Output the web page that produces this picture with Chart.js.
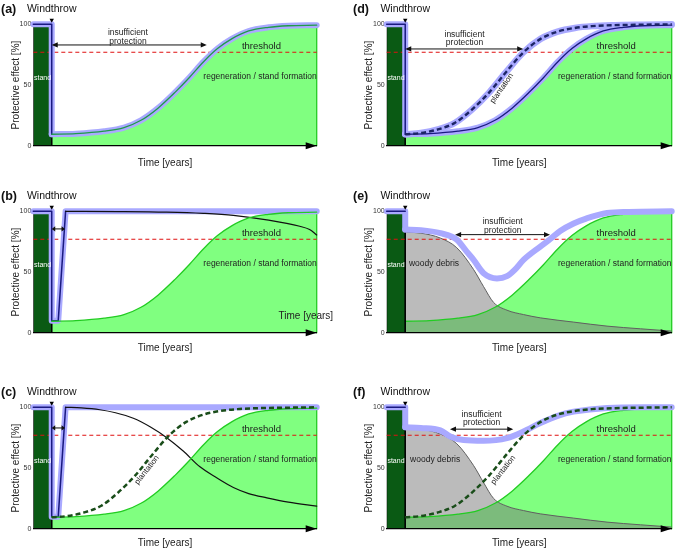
<!DOCTYPE html>
<html><head><meta charset="utf-8">
<script src="https://cdn.jsdelivr.net/npm/chart.js@4/dist/chart.umd.min.js"></script>
<style>
html,body{margin:0;padding:0;background:#fff;overflow:hidden;width:685px;height:551px;position:relative;}
canvas{position:absolute;}
</style></head><body>
<canvas id="pa"></canvas><canvas id="pb"></canvas><canvas id="pc"></canvas>
<canvas id="pd"></canvas><canvas id="pe"></canvas><canvas id="pf"></canvas>
<script>
// ---------- data ----------
const yTicks = [0, 50, 100];
const yTitle = 'Protective effect [%]';
const xTitle = 'Time [years]';
const thresholdLevel = 77;
const windthrowYear = 6.5;
const startYear = 0;
const endYear = 100;

const standYears = [0, 0, 6.5, 6.5];
const standEffect = [0, 100, 100, 0];

const regenYears = [6.5, 15, 25, 32, 38, 44, 50, 55, 60, 65, 70, 76, 83, 90, 100];
const regenEffect = [9.5, 10, 12, 15, 21, 31, 44, 56, 69, 80, 88, 94.5, 97.5, 98.8, 99.3];

const plantYears = [6.5, 12, 18, 24, 30, 36, 42, 48, 54, 60, 66, 72, 80, 90, 100];
const plantEffect = [9.5, 10.5, 13.5, 19, 30, 44, 61, 77, 88, 94, 97, 98.5, 99.3, 99.7, 100];

const collapseYears = [0, 6.5, 6.5];
const collapseEffectA = [100, 100, 9.5];
const collapseEffectE = [100, 100, 85];
const collapseEffectF = [100, 100, 83.6];

const clearYears = [0, 6.5, 6.5, 8.8, 11.4];
const clearEffect = [100, 100, 10, 10, 100];
const fullYears = [11.4, 100];
const fullEffect = [100, 100];

const residualYearsB = [11.4, 30, 47, 60, 70.6, 82.4, 94, 97.5, 100];
const residualEffectB = [100, 99.8, 99.3, 98.3, 96.7, 93, 87.7, 85, 80.5];

const residualYearsC = [11.4, 17, 23.5, 29, 35.3, 41.2, 47.1, 52.9, 58.8, 64.7, 70.6, 76, 82.4, 90, 100];
const residualEffectC = [100, 99.5, 98, 95.5, 91, 84, 75, 64, 51, 42, 34, 29, 25.5, 22, 18.6];

const debrisYears = [6.5, 12, 18.8, 24.6, 30.5, 34, 37.5, 42.2, 48, 53.9, 65.6, 77.3, 89, 100];
const debrisEffect = [83, 82, 78, 70, 52, 38, 25, 18.6, 15, 12.3, 8.8, 5.5, 3.3, 1.4];

const totalYearsE = [6.5, 12, 18.8, 24.6, 28, 30.5, 34, 38.7, 42.2, 45, 48, 53.9, 57.3, 61, 65.6, 70, 77.3, 85, 100];
const totalEffectE = [85, 84.5, 82, 76.7, 67, 60, 49, 44.7, 46.6, 52, 60, 71, 77, 84, 90, 94, 98.6, 99.5, 100];

const totalYearsF = [6.5, 12, 18.8, 22.3, 27, 34, 42.2, 48, 53.9, 60, 65.6, 77.3, 90, 100];
const totalEffectF = [83.6, 83, 81, 76, 73, 72.4, 74.6, 80, 87, 93, 96.4, 99.5, 100, 100];

// ---------- styles ----------
const FONT = "'Liberation Sans', Arial, sans-serif";
const C = {
  stand: '#0a5a14', greenFill: '#80ff80', greenLine: '#22cc22', lav: '#a9a9ff',
  navy: '#1a1a80', red: '#e01010', gray: 'rgba(120,120,120,0.5)', grayLine: '#606060',
  dashGreen: '#1a4d1a', dashNavy: '#1c2466', text: '#222'
};
const pts = (xs, ys) => xs.map((x, i) => ({x: x, y: ys[i]}));
const threshYears = [startYear, endYear];
const threshEffect = [thresholdLevel, thresholdLevel];
const edgeYears = [endYear, endYear];
const edgeEffect = [0, regenEffect[regenEffect.length - 1]];

function line(xs, ys, color, width, extra) {
  return Object.assign({data: pts(xs, ys), borderColor: color, borderWidth: width, fill: false,
    pointRadius: 0, clip: false, borderCapStyle: 'round', borderJoinStyle: 'round'}, extra || {});
}
const mono = {cubicInterpolationMode: 'monotone'};
function curve(xs, ys, color, width, extra) { return line(xs, ys, color, width, Object.assign({}, mono, extra || {})); }
function areaDS(xs, ys, fillColor, borderColor, bw) {
  return {data: pts(xs, ys), backgroundColor: fillColor, borderColor: borderColor || 'rgba(0,0,0,0)',
    borderWidth: bw || 0, fill: 'origin', pointRadius: 0, cubicInterpolationMode: 'monotone', clip: false};
}
const standDS = () => ({data: pts(standYears, standEffect), backgroundColor: C.stand, borderColor: '#000',
  borderWidth: 1, fill: 'origin', pointRadius: 0});
const regenFill = () => areaDS(regenYears, regenEffect, C.greenFill);
const regenEdge = () => line(edgeYears, edgeEffect, C.greenLine, 1.3);
const threshDS = () => line(threshYears, threshEffect, C.red, 1.2, {borderDash: [4, 3], borderCapStyle: 'butt'});

// ---------- annotation plugin ----------
const annoPlugin = {
  id: 'anno',
  afterDatasetsDraw(chart, args, o) {
    const ctx = chart.ctx, xs = chart.scales.x, ys = chart.scales.y, ca = chart.chartArea;
    const X = v => xs.getPixelForValue(v), Y = v => ys.getPixelForValue(v);
    ctx.save();
    ctx.fillStyle = '#000';
    // axis arrowhead
    ctx.beginPath(); ctx.moveTo(ca.right, ca.bottom); ctx.lineTo(ca.right - 11, ca.bottom - 3.5);
    ctx.lineTo(ca.right - 11, ca.bottom + 3.5); ctx.closePath(); ctx.fill();
    // windthrow marker
    const wx = X(windthrowYear);
    ctx.beginPath(); ctx.moveTo(wx - 2.2, ca.top - 5.5); ctx.lineTo(wx + 2.2, ca.top - 5.5);
    ctx.lineTo(wx, ca.top - 1.5); ctx.closePath(); ctx.fill();
    ctx.textBaseline = 'middle';
    ctx.fillStyle = '#111';
    ctx.font = 'bold 12.5px ' + FONT; ctx.textAlign = 'left'; ctx.fillText(o.label, o.labelX, 9.5);
    ctx.font = '10.5px ' + FONT; ctx.textAlign = 'center'; ctx.fillText('Windthrow', wx, 9.5);
    ctx.fillStyle = C.text;
    ctx.font = '10px ' + FONT; ctx.fillText(xTitle, (ca.left + ca.right) / 2 - 10, ca.bottom + o.timeDy);
    for (const n of o.notes) {
      if (n.t === 'text') {
        ctx.save();
        ctx.translate(X(n.x), Y(n.y));
        if (n.rot) ctx.rotate(n.rot * Math.PI / 180);
        ctx.font = (n.size || 8.5) + 'px ' + FONT;
        ctx.fillStyle = n.color || C.text;
        ctx.textAlign = n.align || 'center';
        ctx.fillText(n.s, 0, 0);
        ctx.restore();
      } else if (n.t === 'arrow') {
        const x1 = X(n.x1), x2 = X(n.x2), y = Y(n.y), h = n.head || 6;
        ctx.strokeStyle = '#111'; ctx.fillStyle = '#111'; ctx.lineWidth = 1;
        ctx.beginPath(); ctx.moveTo(x1 + 2, y); ctx.lineTo(x2 - 2, y); ctx.stroke();
        ctx.beginPath(); ctx.moveTo(x1, y); ctx.lineTo(x1 + h, y - 2.6); ctx.lineTo(x1 + h, y + 2.6); ctx.closePath(); ctx.fill();
        ctx.beginPath(); ctx.moveTo(x2, y); ctx.lineTo(x2 - h, y - 2.6); ctx.lineTo(x2 - h, y + 2.6); ctx.closePath(); ctx.fill();
      }
    }
    ctx.restore();
  }
};

const PLOT_TOP = 24.3, PLOT_BOTTOM = 145.8;
function makeChart(p) {
  const cv = document.getElementById(p.id);
  cv.width = p.w; cv.height = p.h;
  cv.style.left = p.left + 'px'; cv.style.top = p.top + 'px';
  cv.style.width = p.w + 'px'; cv.style.height = p.h + 'px';
  const n = p.datasets.length;
  p.datasets.forEach((d, i) => { d.order = n - i; });
  return new Chart(cv, {
    type: 'line',
    data: {datasets: p.datasets},
    options: {
      responsive: false, animation: false, devicePixelRatio: 1,
      layout: {padding: {left: 0, top: PLOT_TOP, right: p.w - p.plotRight, bottom: 0}},
      plugins: {legend: {display: false}, tooltip: {enabled: false},
        anno: {label: p.label, labelX: p.labelX, timeDy: p.timeDy, notes: p.notes}},
      scales: {
        x: {type: 'linear', min: startYear, max: endYear,
          grid: {display: false, drawTicks: false}, ticks: {display: false},
          border: {display: true, color: '#000', width: 1.3, z: 1},
          afterFit: s => { s.height = p.h - PLOT_BOTTOM; }},
        y: {type: 'linear', min: 0, max: 100,
          afterBuildTicks: s => { s.ticks = yTicks.map(v => ({value: v})); },
          ticks: {font: {size: 7, family: FONT}, color: '#333', padding: 2},
          grid: {display: false, drawTicks: false}, border: {display: false},
          title: {display: true, text: yTitle, font: {size: 10, family: FONT}, color: C.text,
            padding: {top: p.titlePad, bottom: 0}},
          afterFit: s => { s.width = p.plotLeft; }}
      }
    },
    plugins: [annoPlugin]
  });
}

const L = {w: 340, left: 0, plotLeft: 33.3, plotRight: 316.7, labelX: 1, titlePad: 10};
const R = {w: 345, left: 340, plotLeft: 46.7, plotRight: 331.7, labelX: 13, titlePad: 23};
const common = (side) => [
  {t: 'text', x: 3.25, y: 55.5, s: 'stand', size: 7, color: '#fff'},
  {t: 'text', x: 80.5, y: 81.5, s: 'threshold', size: 9.5, color: '#1a1a1a'},
  {t: 'text', x: 80, y: 56.5, s: 'regeneration / stand formation', size: 8.5}
];

// (a)
makeChart(Object.assign({}, L, {id: 'pa', top: 0, h: 180, label: '(a)', timeDy: 17,
  datasets: [
    regenFill(), regenEdge(), standDS(), threshDS(),
    line(collapseYears, collapseEffectA, C.lav, 6),
    curve(regenYears, regenEffect, C.lav, 6),
    line(collapseYears, collapseEffectA, C.navy, 1.5),
    curve(regenYears, regenEffect, '#1f9a4a', 1.3)
  ],
  notes: common('L').concat([
    {t: 'arrow', x1: 6.5, x2: 61.2, y: 83},
    {t: 'text', x: 33.4, y: 92.8, s: 'insufficient'},
    {t: 'text', x: 33.4, y: 85.6, s: 'protection'}
  ])}));

// (b)
makeChart(Object.assign({}, L, {id: 'pb', top: 187.4, h: 180, label: '(b)', timeDy: 15,
  datasets: [
    regenFill(), regenEdge(), standDS(), threshDS(),
    line(clearYears.concat([endYear]), clearEffect.concat([100]), C.lav, 6),
    line(clearYears, clearEffect, C.navy, 1.5),
    curve(residualYearsB, residualEffectB, '#111', 1.2),
    curve(regenYears, regenEffect, C.greenLine, 1.3)
  ],
  notes: common('L').concat([
    {t: 'arrow', x1: 6.5, x2: 11.2, y: 85.5, head: 3.5},
    {t: 'text', x: 105.8, y: 13.7, s: xTitle, size: 10, align: 'right'}
  ])}));

// (c)
makeChart(Object.assign({}, L, {id: 'pc', top: 383, h: 168, label: '(c)', timeDy: 14.7,
  datasets: [
    regenFill(), regenEdge(), standDS(), threshDS(),
    line(clearYears.concat([endYear]), clearEffect.concat([100]), C.lav, 6),
    line(clearYears, clearEffect, C.navy, 1.5),
    curve(residualYearsC, residualEffectC, '#111', 1.2),
    curve(regenYears, regenEffect, C.greenLine, 1.3),
    curve(plantYears, plantEffect, C.dashGreen, 2.5, {borderDash: [5, 3], borderCapStyle: 'butt'})
  ],
  notes: common('L').concat([
    {t: 'arrow', x1: 6.5, x2: 11.2, y: 83, head: 3.5},
    {t: 'text', x: 40.1, y: 48.4, s: 'plantation', size: 8, rot: -52}
  ])}));

// (d)
makeChart(Object.assign({}, R, {id: 'pd', top: 0, h: 180, label: '(d)', timeDy: 17,
  datasets: [
    regenFill(), regenEdge(), standDS(), threshDS(),
    line(collapseYears, collapseEffectA, C.lav, 6),
    curve(regenYears, regenEffect, C.lav, 6),
    curve(plantYears, plantEffect, C.lav, 6.5),
    line(collapseYears, collapseEffectA, C.navy, 1.5),
    curve(regenYears, regenEffect, C.navy, 1.3),
    curve(plantYears, plantEffect, C.dashNavy, 2.4, {borderDash: [5, 3], borderCapStyle: 'butt'})
  ],
  notes: common('R').concat([
    {t: 'arrow', x1: 6.5, x2: 47.9, y: 79.7},
    {t: 'text', x: 27.3, y: 91.5, s: 'insufficient'},
    {t: 'text', x: 27.3, y: 84.5, s: 'protection'},
    {t: 'text', x: 40.4, y: 47.3, s: 'plantation', size: 8, rot: -55}
  ])}));

// (e)
makeChart(Object.assign({}, R, {id: 'pe', top: 187.4, h: 180, label: '(e)', timeDy: 15,
  datasets: [
    regenFill(), regenEdge(),
    areaDS(debrisYears, debrisEffect, C.gray, C.grayLine, 1),
    curve(regenYears, regenEffect, C.greenLine, 1.3),
    standDS(), threshDS(),
    line(collapseYears, collapseEffectE, C.lav, 6),
    curve(totalYearsE, totalEffectE, C.lav, 6),
    line(collapseYears.slice(0, 2), [100, 100], C.navy, 1.5)
  ],
  notes: common('R').concat([
    {t: 'arrow', x1: 24, x2: 57.3, y: 80.8},
    {t: 'text', x: 40.7, y: 91.5, s: 'insufficient'},
    {t: 'text', x: 40.7, y: 84.1, s: 'protection'},
    {t: 'text', x: 16.6, y: 57, s: 'woody debris', size: 8.5}
  ])}));

// (f)
makeChart(Object.assign({}, R, {id: 'pf', top: 383, h: 168, label: '(f)', timeDy: 14.7,
  datasets: [
    regenFill(), regenEdge(),
    areaDS(debrisYears, debrisEffect, C.gray, C.grayLine, 1),
    curve(regenYears, regenEffect, C.greenLine, 1.3),
    standDS(), threshDS(),
    line(collapseYears, collapseEffectF, C.lav, 6),
    curve(totalYearsF, totalEffectF, C.lav, 6),
    curve(plantYears, plantEffect, C.dashGreen, 2.5, {borderDash: [5, 3], borderCapStyle: 'butt'}),
    line(collapseYears.slice(0, 2), [100, 100], C.navy, 1.5)
  ],
  notes: common('R').concat([
    {t: 'arrow', x1: 22.2, x2: 44.4, y: 82},
    {t: 'text', x: 33.3, y: 93.7, s: 'insufficient'},
    {t: 'text', x: 33.3, y: 87.2, s: 'protection'},
    {t: 'text', x: 17, y: 57, s: 'woody debris', size: 8.5},
    {t: 'text', x: 40.9, y: 48.4, s: 'plantation', size: 8, rot: -52}
  ])}));
</script>
</body></html>
